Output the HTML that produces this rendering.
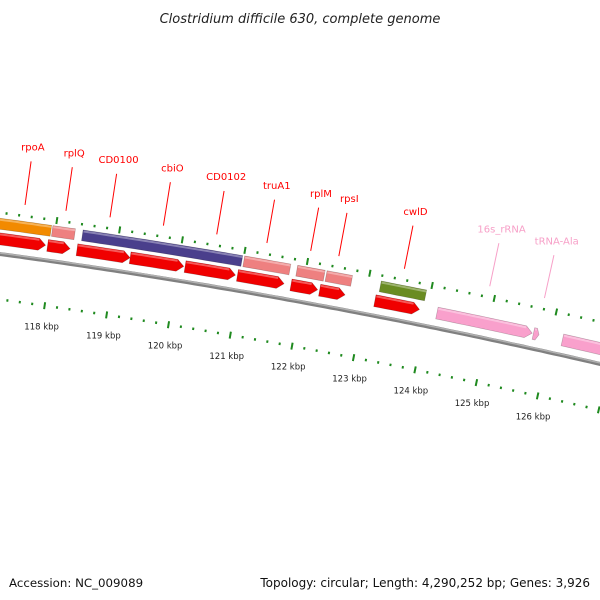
<!DOCTYPE html>
<html><head><meta charset="utf-8"><style>
html,body{margin:0;padding:0;background:#fff}
svg{display:block}
text{font-family:"DejaVu Sans","Liberation Sans",sans-serif}
</style></head><body>
<svg id="map" width="600" height="600" viewBox="0 0 600 600" xmlns="http://www.w3.org/2000/svg">
<text x="300" y="23" text-anchor="middle" font-size="13" font-style="italic" fill="#222">Clostridium difficile 630, complete genome</text>
<text x="9" y="587" font-size="11.8" fill="#111">Accession: NC_009089</text>
<text x="590" y="587" text-anchor="end" font-size="12" fill="#111">Topology: circular; Length: 4,290,252 bp; Genes: 3,926</text>
<g id="g"></g>
</svg>
<script>
// data (kbp)
const cdsStart = [116.4,117.91,118.38,119.23,120.11,120.95,121.81,122.27,123.16];
const cdsEnd   = [117.88,118.27,119.23,120.09,120.92,121.7,122.24,122.68,123.88];
const rnaStart = [124.16,125.72,126.19];
const rnaEnd   = [125.7,125.81,128.0];
const geneStart = [116.4,117.95,118.43,121.01,121.86,122.33,123.2];
const geneEnd   = [117.93,118.31,120.98,121.75,122.3,122.74,123.93];
const geneColor = ['#f28a00','#ee8080','#4a3f8c','#ee8080','#ee8080','#ee8080','#6a8c22'];
const tickLabels = [118,119,120,121,122,123,124,125,126];
const labelNames = ['rpoA','rplQ','CD0100','cbiO','CD0102','truA1','rplM','rpsI','cwlD','16s_rRNA','tRNA-Ala'];
const labelPos = [117.47,118.12,118.82,119.67,120.52,121.32,122.02,122.47,123.52,124.89,125.77];
const labelColor = ['red','red','red','red','red','red','red','red','red','#f7a0c8','#f7a0c8'];

const R=6600, Cx=-888, Cy=6794, phi0=0.181, d=0.00956, k0=122.0;
function P(k,off){const p=phi0+(k-k0)*d, r=R+off;return [Cx+r*Math.sin(p), Cy-r*Math.cos(p)];}
const G=document.getElementById('g'), NS='http://www.w3.org/2000/svg';
function el(t,a){const e=document.createElementNS(NS,t);for(const q in a)e.setAttribute(q,a[q]);G.appendChild(e);return e;}
function arcPts(k1,k2,off){const n=Math.max(2,Math.ceil((k2-k1)*10));const o=[];for(let i=0;i<=n;i++)o.push(P(k1+(k2-k1)*i/n,off));return o;}
function poly(pts){return pts.map(p=>p[0].toFixed(1)+','+p[1].toFixed(1)).join(' ');}
function feature(k1,k2,off,h,col,arrow,name){
  let pts;
  const hl=arrow?Math.min(0.11,(k2-k1)*0.5):0;
  const top=arcPts(k1,k2-hl,off+h/2), bot=arcPts(k1,k2-hl,off-h/2).reverse();
  pts=top.slice();
  if(arrow)pts.push(P(k2,off));
  pts=pts.concat(bot);
  const e=el('polygon',{points:poly(pts),fill:col,stroke:'rgba(0,0,0,0.25)','stroke-width':'0.6'});
  
  
  const hi=el('polyline',{points:poly(arcPts(k1+0.01,k2-hl,off+h/2-1.5)),fill:'none',stroke:'rgba(255,255,255,0.35)','stroke-width':'2'});
  
  
}
// backbone
const bb=el('polyline',{points:poly(arcPts(115,130,0)),fill:'none',stroke:'#808080','stroke-width':'4'});


const bb2=el('polyline',{points:poly(arcPts(115,130,1)),fill:'none',stroke:'#b0b0b0','stroke-width':'1.5'});


// ticks
for(let i=0;i<=70;i++){const k=115+i*0.2;const major=i%5===0;
  for(const off of [41,-45]){const len=major?7:2.5;const a=P(k,off-len/2),b=P(k,off+len/2);
    const t=el('line',{x1:a[0],y1:a[1],x2:b[0],y2:b[1],stroke:'#1f8a1f','stroke-width':'2'});
    
    }}
tickLabels.forEach(k=>{const p=P(k,-66);const t=el('text',{x:p[0],y:p[1]+3,'text-anchor':'middle','font-size':'8.5',fill:'#222'});t.textContent=k+' kbp';
  
  });
// features
for(let i=0;i<cdsStart.length;i++)feature(cdsStart[i],cdsEnd[i],15,12,'#f00000',true,'cds-'+i);
for(let i=0;i<rnaStart.length;i++)feature(rnaStart[i],rnaEnd[i],15,12,'#f9a0cc',true,'rna-'+i);
for(let i=0;i<geneStart.length;i++)feature(geneStart[i],geneEnd[i],30,11,geneColor[i],false,'gene-'+i);
// labels
labelNames.forEach((n,i)=>{const k=labelPos[i];const a=P(k,52),b=P(k,96),c=P(k,109);
  const l=el('line',{x1:a[0],y1:a[1],x2:b[0],y2:b[1],stroke:labelColor[i],'stroke-width':'1'});
  
  
  const t=el('text',{x:c[0],y:c[1]+2,'text-anchor':'middle','font-size':'10',fill:labelColor[i]});t.textContent=n;
  
  });
</script>
</body></html>
